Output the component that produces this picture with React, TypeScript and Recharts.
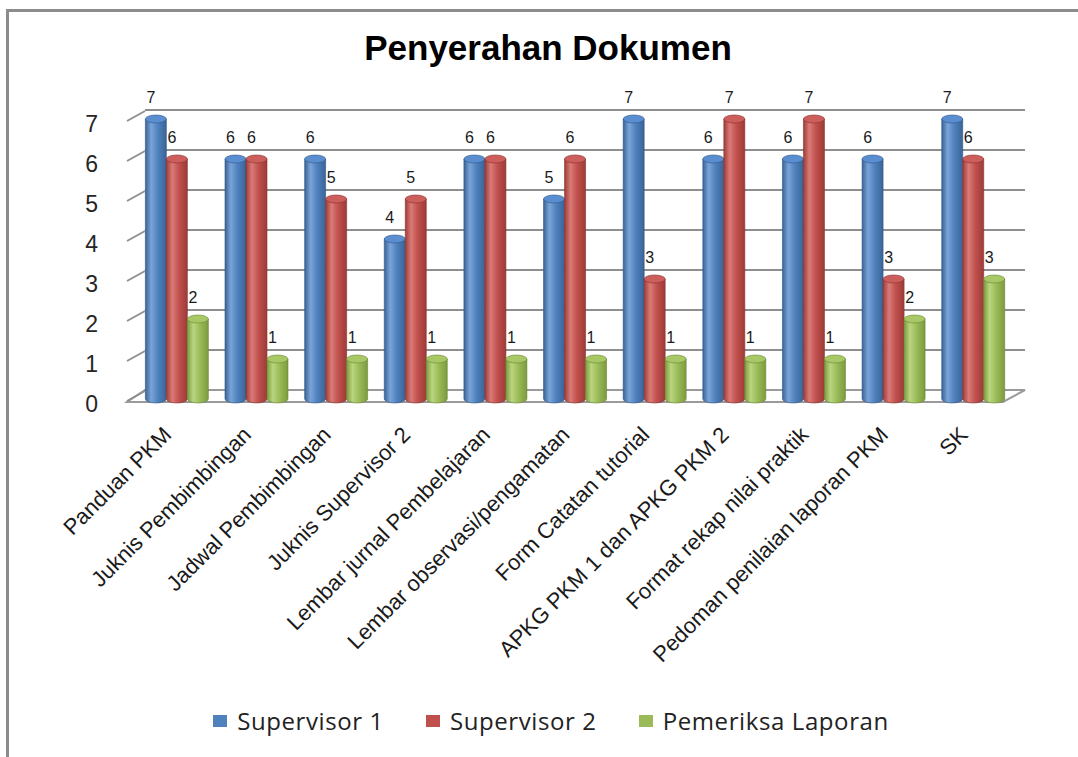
import React from "react";
import { BarChart, Bar, XAxis, YAxis, CartesianGrid, Legend, LabelList } from "recharts";

const categories = [
  "Panduan PKM",
  "Juknis Pembimbingan",
  "Jadwal Pembimbingan",
  "Juknis Supervisor 2",
  "Lembar jurnal Pembelajaran",
  "Lembar observasi/pengamatan",
  "Form Catatan tutorial",
  "APKG PKM 1 dan APKG PKM 2",
  "Format rekap nilai praktik",
  "Pedoman penilaian laporan PKM",
  "SK",
];
const supervisor1 = [7, 6, 6, 4, 6, 5, 7, 6, 6, 6, 7];
const supervisor2 = [6, 6, 5, 5, 6, 6, 3, 7, 7, 3, 6];
const pemeriksaLaporan = [2, 1, 1, 1, 1, 1, 1, 1, 1, 2, 3];
const yTicks = [0, 1, 2, 3, 4, 5, 6, 7];

const seriesNames = ["Supervisor 1", "Supervisor 2", "Pemeriksa Laporan"];

const data = categories.map((c, i) => ({
  name: c,
  s1: supervisor1[i],
  s2: supervisor2[i],
  s3: pemeriksaLaporan[i],
}));

const COLORS = {
  s1: { base: "#4F81BD", light: "#7AA4D8", dark: "#3A6497", edge: "#2F5585", top: "#5B8ED0" },
  s2: { base: "#C0504D", light: "#DA7B78", dark: "#9E3B38", edge: "#87302E", top: "#CC5E5B" },
  s3: { base: "#9BBB59", light: "#BAD57F", dark: "#7C9B3E", edge: "#6A8634", top: "#A8C866" },
};

const FONT = "'Liberation Sans', Arial, sans-serif";

const makeCylinder = (key: "s1" | "s2" | "s3") => (props: any) => {
  const { x, y, width, height } = props;
  if (width == null || height == null) return null;
  const rx = width / 2;
  const ry = 4;
  const c = COLORS[key];
  const bottom = y + height;
  return (
    <g>
      <path
        d={`M${x},${y} L${x},${bottom} A${rx},${ry} 0 0 0 ${x + width},${bottom} L${x + width},${y} Z`}
        fill={`url(#grad-${key})`}
        stroke={c.edge}
        strokeWidth={0.6}
      />
      <ellipse cx={x + rx} cy={y} rx={rx} ry={ry} fill={c.top} stroke={c.edge} strokeWidth={0.6} />
    </g>
  );
};

const BarLabel = (props: any) => {
  const { x, y, width, value } = props;
  return (
    <text
      x={x + width / 2 - 5}
      y={y - 16}
      textAnchor="middle"
      fontSize={16}
      fontFamily={FONT}
      fill="#1a1a1a"
    >
      {value}
    </text>
  );
};

const YTick = (props: any) => {
  const { x, y, payload } = props;
  return (
    <g>
      <line x1={x - 10} y1={y + 2} x2={x + 8} y2={y - 8} stroke="#8e8e8e" strokeWidth={2} />
      <text
        x={x - 39}
        y={y + 13}
        textAnchor="end"
        fontSize={23}
        fontFamily={FONT}
        fill="#262626"
      >
        {payload.value}
      </text>
    </g>
  );
};

const XTick = (props: any) => {
  const { x, y, payload } = props;
  const ax = x - 4;
  const ay = y + 37;
  return (
    <text
      x={ax}
      y={ay}
      textAnchor="end"
      fontSize={22}
      fontFamily={FONT}
      fill="#1a1a1a"
      transform={`rotate(-45, ${ax}, ${ay})`}
    >
      {payload.value}
    </text>
  );
};

const GridLine = (props: any) => {
  const { x1, x2, y1, index } = props;
  return (
    <g key={`g-${index}-${y1}`}>
      <line x1={x1 + 8} y1={y1 - 9} x2={x2 + 12} y2={y1 - 9} stroke="#8e8e8e" strokeWidth={2} />
      {index === 0 ? (
        <polygon
          points={`${x1 - 10},${y1 + 3} ${x2 - 10},${y1 + 3} ${x2 + 12},${y1 - 9} ${x1 + 8},${y1 - 9}`}
          fill="#ffffff"
          stroke="#9a9a9a"
          strokeWidth={2}
        />
      ) : null}
    </g>
  );
};

const LegendContent = () => (
  <div
    style={{
      display: "flex",
      justifyContent: "center",
      alignItems: "center",
      fontFamily: "'Open Sans', sans-serif",
      fontSize: 24,
      letterSpacing: 0.6,
      color: "#222",
      paddingLeft: 24,
    }}
  >
    {(["s1", "s2", "s3"] as const).map((k, i) => (
      <div key={k} style={{ display: "flex", alignItems: "center", marginRight: i < 2 ? 42 : 0 }}>
        <div style={{ width: 14, height: 12, background: COLORS[k].base, marginRight: 10 }} />
        <span>{seriesNames[i]}</span>
      </div>
    ))}
  </div>
);

export default function App() {
  return (
    <div style={{ position: "absolute", left: 0, top: 0, width: 1078, height: 757, background: "#fff" }}>
      <div
        style={{
          position: "absolute",
          left: 6,
          top: 9,
          width: 1072,
          height: 748,
          borderTop: "3px solid #8c8c8c",
          borderLeft: "3px solid #8c8c8c",
          boxSizing: "border-box",
        }}
      />
      <div
        style={{
          position: "absolute",
          left: 0,
          top: 28,
          width: 1096,
          textAlign: "center",
          fontFamily: FONT,
          fontWeight: "bold",
          fontSize: 35,
          color: "#000",
          lineHeight: "40px",
        }}
      >
        Penyerahan Dokumen
      </div>
      <div style={{ position: "absolute", left: 0, top: 0 }}>
        <BarChart
          width={1078}
          height={757}
          data={data}
          margin={{ top: 119, right: 65, left: 77, bottom: 218 }}
          barCategoryGap="10.5%"
          barGap={0}
        >
          <defs>
            {(["s1", "s2", "s3"] as const).map((k) => (
              <linearGradient key={k} id={`grad-${k}`} x1="0" y1="0" x2="1" y2="0">
                <stop offset="0%" stopColor={COLORS[k].dark} />
                <stop offset="28%" stopColor={COLORS[k].light} />
                <stop offset="60%" stopColor={COLORS[k].base} />
                <stop offset="100%" stopColor={COLORS[k].dark} />
              </linearGradient>
            ))}
          </defs>
          <CartesianGrid vertical={false} horizontal={(p: any) => <GridLine {...p} />} />
          <XAxis
            dataKey="name"
            interval={0}
            height={140}
            axisLine={false}
            tickLine={false}
            tickSize={0}
            tickMargin={0}
            tick={<XTick />}
          />
          <YAxis
            domain={[0, 7]}
            ticks={yTicks}
            width={60}
            axisLine={false}
            tickLine={false}
            tickSize={0}
            tickMargin={0}
            tick={<YTick />}
          />
          <Legend
            verticalAlign="middle"
            layout="horizontal"
            content={<LegendContent />}
            wrapperStyle={{ top: 704, left: 0, width: 1078 }}
          />
          <Bar dataKey="s1" name={seriesNames[0]} fill={COLORS.s1.base} shape={makeCylinder("s1")} isAnimationActive={false}>
            <LabelList dataKey="s1" content={<BarLabel />} />
          </Bar>
          <Bar dataKey="s2" name={seriesNames[1]} fill={COLORS.s2.base} shape={makeCylinder("s2")} isAnimationActive={false}>
            <LabelList dataKey="s2" content={<BarLabel />} />
          </Bar>
          <Bar dataKey="s3" name={seriesNames[2]} fill={COLORS.s3.base} shape={makeCylinder("s3")} isAnimationActive={false}>
            <LabelList dataKey="s3" content={<BarLabel />} />
          </Bar>
        </BarChart>
      </div>
    </div>
  );
}
